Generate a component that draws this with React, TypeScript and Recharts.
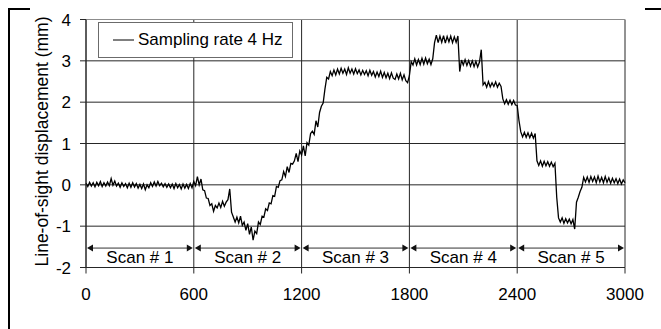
import React from 'react';
import { LineChart, Line, XAxis, YAxis, CartesianGrid, ReferenceLine, Legend } from 'recharts';

// 10 s between samples (values in mm)
const SAMPLE_STEP_S = 10;

const scan1 = [
  0.04, -0.04, 0.06, -0.03, 0.05, -0.05,
  0.06, -0.02, 0.08, -0.04, 0.05, -0.03,
  0.07, -0.02, 0.15, -0.01, 0.09, -0.03,
  0.04, -0.06, 0.05, -0.04, 0.03, -0.07,
  0.04, -0.06, 0.05, -0.05, 0.03, -0.08,
  0.01, -0.09, 0.02, -0.12, 0.0, -0.07,
  0.05, -0.04, 0.07, -0.03, 0.08, -0.02,
  0.04, -0.05, 0.03, -0.06, 0.02, -0.07,
  0.02, -0.09, 0.03, -0.07, 0.01, -0.1,
  0.02, -0.08, 0.01, -0.09, 0.03, -0.07,
];
const scan2 = [
  0.08, -0.02, 0.2, 0.0, 0.14, -0.12,
  -0.14, -0.32, -0.33, -0.5, -0.46, -0.64,
  -0.5, -0.56, -0.44, -0.55, -0.4, -0.52,
  -0.42, -0.36, -0.1, -0.66, -0.78, -0.9,
  -0.78, -0.92, -0.76, -0.98, -0.9, -1.1,
  -0.94, -1.2, -1.02, -1.34, -1.12, -1.18,
  -0.9, -0.96, -0.76, -0.78, -0.58, -0.62,
  -0.44, -0.46, -0.26, -0.28, -0.04, -0.06,
  0.1, 0.12, 0.32, 0.2, 0.44, 0.3,
  0.52, 0.5, 0.58, 0.76, 0.56, 0.82,
];
const scan3 = [
  0.72, 0.94, 0.7, 1.02, 0.96, 1.24,
  1.3, 1.22, 1.55, 1.4, 1.75, 1.9,
  1.98, 2.32, 2.6, 2.56, 2.74, 2.64,
  2.78, 2.66, 2.8, 2.68, 2.82, 2.7,
  2.8, 2.67, 2.83, 2.7, 2.8, 2.68,
  2.81, 2.69, 2.78, 2.66, 2.77, 2.67,
  2.76, 2.64, 2.77, 2.65, 2.74, 2.61,
  2.73, 2.62, 2.75, 2.6, 2.72, 2.59,
  2.7, 2.57, 2.71, 2.58, 2.55, 2.68,
  2.56, 2.7, 2.54, 2.66, 2.52, 2.47,
];
const scan4 = [
  2.64, 2.98, 2.9, 3.05, 2.9, 3.03,
  2.91, 3.06, 2.92, 3.07, 2.93, 3.04,
  2.91, 3.05, 3.44, 3.62, 3.44, 3.6,
  3.45, 3.61, 3.43, 3.59, 3.46, 3.6,
  3.44, 3.58, 3.45, 3.6, 2.74, 3.02,
  2.9, 3.03, 2.89, 3.01, 2.87, 3.0,
  2.86, 2.99, 2.85, 2.97, 3.27, 2.42,
  2.48, 2.36, 2.5, 2.37, 2.47, 2.38,
  2.49, 2.36, 2.46, 2.38, 2.08, 1.96,
  2.06, 1.95, 2.05, 1.94, 2.04, 1.93,
];
const scan5 = [
  1.92, 1.55, 1.28, 1.16, 1.27, 1.15,
  1.26, 1.14, 1.25, 1.13, 1.24, 0.58,
  0.47, 0.58, 0.45, 0.57, 0.46, 0.56,
  0.45, 0.55, 0.44, 0.52, -0.3, -0.8,
  -0.9, -0.8, -0.93, -0.82, -0.92, -0.83,
  -0.94, -0.84, -1.07, -0.42, -0.3, -0.16,
  -0.06, 0.18, 0.07, 0.19, 0.06, 0.2,
  0.08, 0.19, 0.05, 0.21, 0.07, 0.18,
  0.05, 0.2, 0.06, 0.17, 0.04, 0.16,
  0.05, 0.15, 0.03, 0.14, 0.02, 0.12,
  0.05,
];

const xTicks = [0, 600, 1200, 1800, 2400, 3000];
const yTicks = [-2, -1, 0, 1, 2, 3, 4];
const scanLabels = ['Scan # 1', 'Scan # 2', 'Scan # 3', 'Scan # 4', 'Scan # 5'];
const scanArrowY = -1.53;

const displacement = [...scan1, ...scan2, ...scan3, ...scan4, ...scan5];
const data = displacement.map((d, i) => ({ t: i * SAMPLE_STEP_S, d }));

const FONT = '"Liberation Sans", Arial, sans-serif';
const GRID = '#262626';

function ScanArrow(props: any) {
  const { x1, y1, x2, label } = props;
  const a = x1 + 1;
  const b = x2 - 1;
  return (
    <g>
      <line x1={a + 3} y1={y1} x2={b - 3} y2={y1} stroke="#333" strokeWidth={1} />
      <polygon points={`${a},${y1} ${a + 6},${y1 - 3.5} ${a + 6},${y1 + 3.5}`} fill="#111" />
      <polygon points={`${b},${y1} ${b - 6},${y1 - 3.5} ${b - 6},${y1 + 3.5}`} fill="#111" />
      <text x={(a + b) / 2} y={y1 + 15} textAnchor="middle" fontSize={17} fontFamily={FONT} fill="#000">
        {label}
      </text>
    </g>
  );
}

function LegendBox() {
  return (
    <div
      style={{
        width: 195,
        height: 36,
        boxSizing: 'border-box',
        border: '1px solid #6b6b6b',
        background: '#fff',
        display: 'flex',
        alignItems: 'center',
        fontFamily: FONT,
        fontSize: 17,
        color: '#000',
      }}
    >
      <svg width={37} height={10}>
        <line x1={14} y1={5} x2={35} y2={5} stroke="#000" strokeWidth={1} />
      </svg>
      <span style={{ marginLeft: 2 }}>Sampling rate 4 Hz</span>
    </div>
  );
}

function YLabel(props: any) {
  const vb = props.viewBox || { y: 19.5, height: 248 };
  const cy = vb.y + vb.height / 2 - 2;
  return (
    <text
      x={42}
      y={cy}
      transform={`rotate(-90, 42, ${cy})`}
      textAnchor="middle"
      dominantBaseline="central"
      fontSize={17.5}
      fontFamily={FONT}
      fill="#000"
    >
      Line-of-sight displacement (mm)
    </text>
  );
}

export default function App() {
  return (
    <div style={{ position: 'absolute', left: 0, top: 0, width: 661, height: 329, background: '#fff' }}>
      <LineChart
        width={661}
        height={329}
        data={data}
        margin={{ top: 19.5, right: 36, bottom: 31.5, left: 0 }}
      >
        <CartesianGrid stroke={GRID} strokeWidth={1} />
        <XAxis
          type="number"
          dataKey="t"
          domain={[0, 3000]}
          ticks={xTicks}
          height={30}
          tickSize={6}
          tickMargin={14}
          axisLine={{ stroke: GRID }}
          tickLine={{ stroke: GRID }}
          tick={{ fontSize: 17, fontFamily: FONT, fill: '#000' }}
          interval={0}
        />
        <YAxis
          type="number"
          domain={[-2, 4]}
          ticks={yTicks}
          width={86}
          tickSize={6}
          tickMargin={9}
          axisLine={{ stroke: GRID }}
          tickLine={{ stroke: GRID }}
          tick={{ fontSize: 17, fontFamily: FONT, fill: '#000' }}
          interval={0}
          label={<YLabel />}
        />
        <ReferenceLine y={4} stroke="#8c8c8c" strokeWidth={1} />
        {scanLabels.map((label, i) => (
          <ReferenceLine
            key={label}
            segment={[
              { x: xTicks[i], y: scanArrowY },
              { x: xTicks[i + 1], y: scanArrowY },
            ]}
            shape={(p: any) => <ScanArrow {...p} label={label} />}
          />
        ))}
        <Line
          type="linear"
          dataKey="d"
          stroke="#000"
          strokeWidth={1.3}
          dot={false}
          isAnimationActive={false}
        />
        <Legend
          layout="horizontal"
          verticalAlign="middle"
          align="center"
          content={() => <LegendBox />}
          wrapperStyle={{ left: 98, top: 22, width: 195, height: 36 }}
        />
      </LineChart>
      <div style={{ position: 'absolute', left: 8, top: 8, width: 2, height: 321, background: '#000' }} />
      <div style={{ position: 'absolute', left: 8, top: 8, width: 22, height: 2, background: '#000' }} />
      <div style={{ position: 'absolute', left: 645, top: 8, width: 16, height: 2, background: '#000' }} />
    </div>
  );
}
